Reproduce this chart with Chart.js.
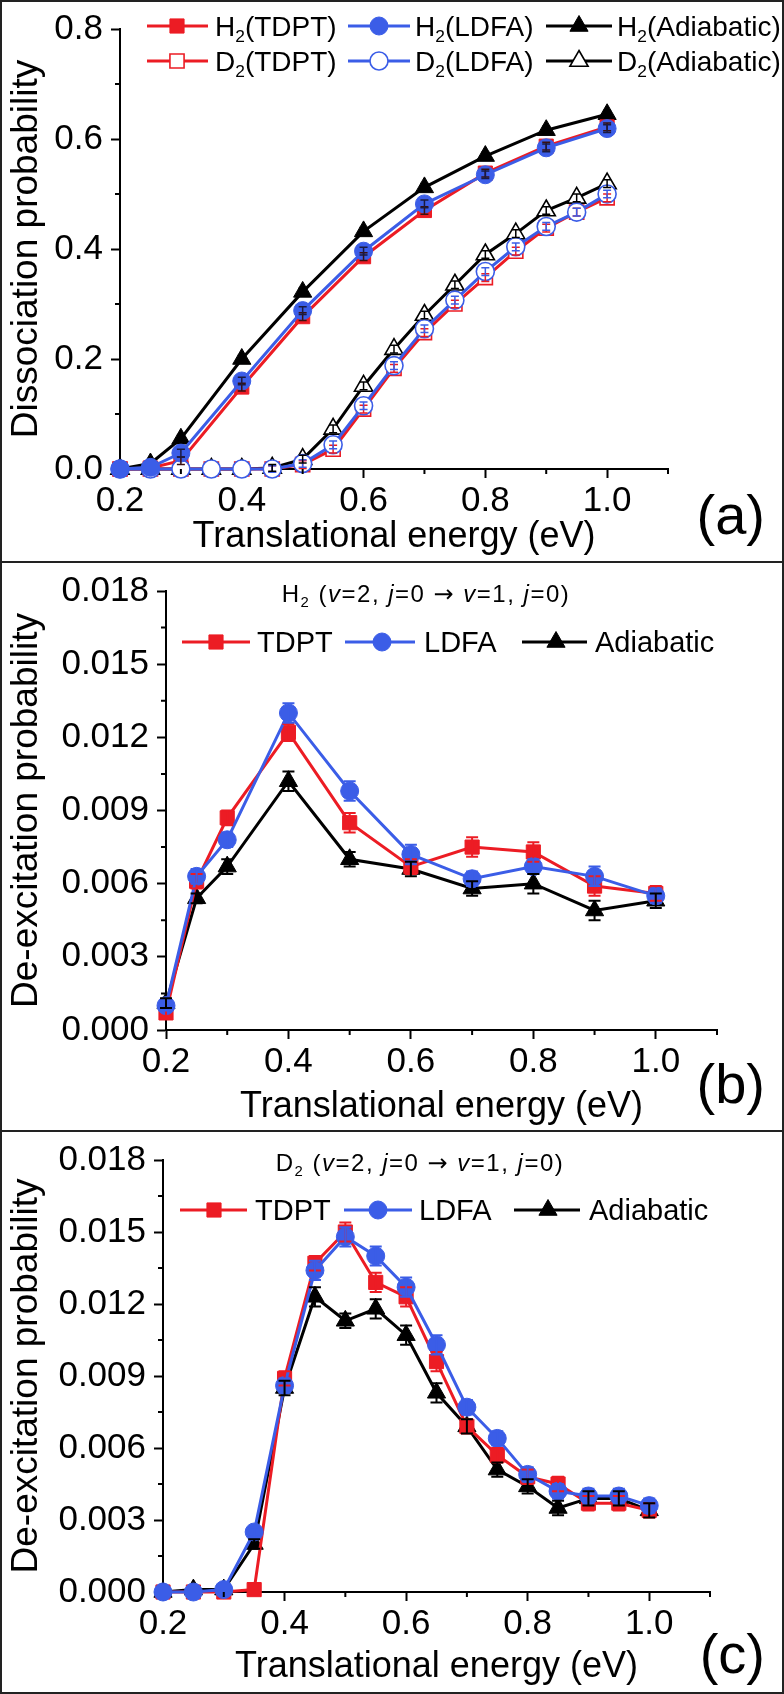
<!DOCTYPE html>
<html>
<head>
<meta charset="utf-8">
<script src="https://cdn.jsdelivr.net/npm/chart.js@4.4.1/dist/chart.umd.min.js"></script>
<style>
  html, body { margin: 0; padding: 0; background: #fff; }
  #fig { position: relative; width: 784px; height: 1694px; overflow: hidden; }
  #fig canvas { position: absolute; left: 0; }
  .frame { position: absolute; left: 0; top: 0; width: 784px; height: 1694px; border: 2px solid #222; box-sizing: border-box; pointer-events: none; }
  .sep { position: absolute; left: 0; width: 784px; height: 2px; background: #222; }
</style>
</head>
<body>
<div id="fig">
  <canvas id="chartA" width="784" height="562" style="top:0"></canvas>
  <canvas id="chartB" width="784" height="569" style="top:562px"></canvas>
  <canvas id="chartC" width="784" height="563" style="top:1131px"></canvas>
  <div class="sep" style="top:561px"></div>
  <div class="sep" style="top:1130px"></div>
  <div class="frame"></div>
</div>
<script>
const FONT = '"Liberation Sans", Arial, Helvetica, sans-serif';
const ARROW_FONT = '"DejaVu Sans", sans-serif';
const RED = "#ec1c24";
const BLUE = "#3b5de7";
const BLACK = "#000000";

// (a) dissociation probability
const E_H2 = [0.2, 0.25, 0.3, 0.4, 0.5, 0.6, 0.7, 0.8, 0.9, 1.0];
const A_H2_TDPT = [0, 0.002, 0.015, 0.149, 0.277, 0.386, 0.470, 0.538, 0.587, 0.622];
const A_H2_LDFA = [0, 0.003, 0.029, 0.160, 0.288, 0.396, 0.482, 0.535, 0.584, 0.619];
const A_H2_ADIA = [0, 0.010, 0.055, 0.200, 0.322, 0.432, 0.512, 0.569, 0.616, 0.645];
const A_H2_ERR = [0, 0, 0.007, 0.007, 0.007, 0.007, 0.007, 0.007, 0.007, 0.007];

const E_D2 = [0.2, 0.25, 0.3, 0.35, 0.4, 0.45, 0.5, 0.55, 0.6, 0.65, 0.7, 0.75, 0.8, 0.85, 0.9, 0.95, 1.0];
const A_D2_TDPT = [0, 0, 0, 0, 0, 0, 0.008, 0.036, 0.109, 0.183, 0.248, 0.300, 0.348, 0.396, 0.438, 0.467, 0.493];
const A_D2_LDFA = [0, 0, 0, 0, 0, 0, 0.010, 0.044, 0.115, 0.188, 0.255, 0.307, 0.359, 0.404, 0.441, 0.467, 0.500];
const A_D2_ADIA = [0, 0, 0, 0, 0, 0.002, 0.018, 0.073, 0.151, 0.218, 0.280, 0.335, 0.390, 0.428, 0.470, 0.493, 0.519];
const A_D2_ERR = [0, 0, 0, 0, 0, 0.006, 0.007, 0.007, 0.007, 0.007, 0.007, 0.007, 0.007, 0.007, 0.007, 0.007, 0.007];

// (b) H2 de-excitation
const E_B = [0.2, 0.25, 0.3, 0.4, 0.5, 0.6, 0.7, 0.8, 0.9, 1.0];
const B_TDPT = [0.0007, 0.0061, 0.0087, 0.0122, 0.0085, 0.0067, 0.0075, 0.0073, 0.0059, 0.0056];
const B_LDFA = [0.0010, 0.0063, 0.0078, 0.0130, 0.0098, 0.0072, 0.0062, 0.0067, 0.0063, 0.0055];
const B_ADIA = [0.0011, 0.0054, 0.0067, 0.0102, 0.0070, 0.0066, 0.0058, 0.0060, 0.0049, 0.0053];
const B_TDPT_ERR = [0.0002, 0.0003, 0.0003, 0.00035, 0.0004, 0.0003, 0.0004, 0.0004, 0.0004, 0.0003];
const B_LDFA_ERR = [0.0002, 0.0003, 0.0003, 0.0004, 0.0004, 0.0004, 0.0003, 0.0003, 0.0004, 0.0003];
const B_ADIA_ERR = [0.0002, 0.0002, 0.0003, 0.0004, 0.0003, 0.0003, 0.0003, 0.0004, 0.0004, 0.0003];

// (c) D2 de-excitation
const E_C = [0.2, 0.25, 0.3, 0.35, 0.4, 0.45, 0.5, 0.55, 0.6, 0.65, 0.7, 0.75, 0.8, 0.85, 0.9, 0.95, 1.0];
const C_TDPT = [0, 0, 0, 0.0001, 0.0089, 0.0137, 0.0150, 0.0129, 0.0123, 0.0096, 0.0069, 0.0057, 0.0048, 0.0045, 0.0037, 0.0037, 0.0034];
const C_LDFA = [0, 0, 0.0001, 0.0025, 0.0086, 0.0134, 0.0148, 0.0140, 0.0127, 0.0103, 0.0077, 0.0064, 0.0049, 0.0042, 0.0040, 0.0040, 0.0036];
const C_ADIA = [0, 0.0001, 0.0001, 0.0020, 0.0085, 0.0123, 0.0113, 0.0118, 0.0107, 0.0083, 0.0069, 0.0051, 0.0044, 0.0035, 0.0039, 0.0039, 0.0034];
const C_TDPT_ERR = [0, 0, 0, 0, 0.0003, 0.0003, 0.0004, 0.0004, 0.0004, 0.0004, 0.0003, 0.0003, 0.0003, 0.0003, 0.0003, 0.0003, 0.0003];
const C_LDFA_ERR = [0, 0, 0, 0.0002, 0.0003, 0.0004, 0.0004, 0.0004, 0.0004, 0.0004, 0.0003, 0.0003, 0.0003, 0.0003, 0.0003, 0.0003, 0.0003];
const C_ADIA_ERR = [0, 0, 0, 0.0002, 0.0003, 0.0004, 0.0003, 0.0004, 0.0004, 0.0004, 0.0003, 0.0003, 0.0003, 0.0003, 0.0003, 0.0003, 0.0003];

const R_RECT = 10, R_CIRC = 9, R_TRI = 10.5;

function isMajor(v, step) {
  const r = v / step;
  return Math.abs(r - Math.round(r)) < 1e-6;
}

function series(label, xs, ys, errs, color, shape, radius, open, errColor, order) {
  return {
    label: label,
    data: xs.map((x, i) => ({ x: x, y: ys[i] })),
    errors: errs,
    errColor: errColor || color,
    order: order,
    borderColor: color,
    borderWidth: 3,
    pointStyle: shape,
    pointRadius: radius,
    pointHoverRadius: radius,
    pointBackgroundColor: open ? "#ffffff" : color,
    pointBorderColor: color,
    pointBorderWidth: open ? 1.6 : 1,
    tension: 0,
    clip: false
  };
}

function richFont(p, size) {
  const s = p[1] === "s" ? size * 0.62 : size;
  const fam = p[1] === "a" ? ARROW_FONT : FONT;
  return (p[1] === "i" ? "italic " : "") + s + "px " + fam;
}

function drawRich(ctx, pieces, x, base, size, align, spacing) {
  ctx.letterSpacing = (spacing || 0) + "px";
  let w = 0;
  pieces.forEach(p => { ctx.font = richFont(p, size); w += ctx.measureText(p[0]).width; });
  let cx = align === "center" ? x - w / 2 : x;
  ctx.textAlign = "left";
  ctx.textBaseline = "alphabetic";
  ctx.fillStyle = "#000";
  pieces.forEach(p => {
    ctx.font = richFont(p, size);
    ctx.fillText(p[0], cx, p[1] === "s" ? base + size * 0.22 : base);
    cx += ctx.measureText(p[0]).width;
  });
  ctx.letterSpacing = "0px";
}

const decorPlugin = {
  id: "decor",
  afterDatasetsDraw(chart, args, opts) {
    const ctx = chart.ctx;
    const ys = chart.scales.y;
    ctx.save();
    chart.data.datasets.forEach((ds, di) => {
      if (!ds.errors) return;
      const meta = chart.getDatasetMeta(di);
      ctx.strokeStyle = ds.errColor;
      ctx.lineWidth = opts.errWidth;
      meta.data.forEach((pt, i) => {
        const e = ds.errors[i];
        if (!e) return;
        const v = ds.data[i].y;
        const top = ys.getPixelForValue(v + e);
        const bot = ys.getPixelForValue(v - e);
        ctx.beginPath();
        ctx.moveTo(pt.x, top); ctx.lineTo(pt.x, bot);
        ctx.moveTo(pt.x - opts.capW, top); ctx.lineTo(pt.x + opts.capW, top);
        ctx.moveTo(pt.x - opts.capW, bot); ctx.lineTo(pt.x + opts.capW, bot);
        ctx.stroke();
      });
    });
    ctx.restore();
  },
  afterDraw(chart, args, opts) {
    const ctx = chart.ctx;
    const xs = chart.scales.x, ys = chart.scales.y;
    ctx.save();
    // minor ticks
    ctx.strokeStyle = "#000";
    ctx.lineWidth = 2;
    ctx.beginPath();
    xs.ticks.forEach(t => {
      if (isMajor(t.value, opts.xMajor)) return;
      const px = xs.getPixelForValue(t.value);
      ctx.moveTo(px, xs.top); ctx.lineTo(px, xs.top + 5);
    });
    ys.ticks.forEach(t => {
      if (isMajor(t.value, opts.yMajor)) return;
      const py = ys.getPixelForValue(t.value);
      ctx.moveTo(ys.right - 5, py); ctx.lineTo(ys.right, py);
    });
    ctx.stroke();

    // legend
    const lg = opts.legend;
    lg.items.forEach(it => {
      const ds = chart.data.datasets[it.ds];
      ctx.strokeStyle = ds.borderColor;
      ctx.lineWidth = ds.borderWidth;
      ctx.beginPath(); ctx.moveTo(it.x0, it.y); ctx.lineTo(it.x1, it.y); ctx.stroke();
      ctx.fillStyle = ds.pointBackgroundColor;
      ctx.strokeStyle = ds.pointBorderColor;
      ctx.lineWidth = ds.pointBorderWidth;
      Chart.helpers.drawPoint(ctx, { pointStyle: ds.pointStyle, radius: ds.pointRadius, borderWidth: ds.pointBorderWidth, rotation: 0 }, it.mx, it.y);
      drawRich(ctx, it.text, it.tx, it.y + 0.36 * lg.size, lg.size, "left", 0);
    });

    if (opts.subtitle) {
      const st = opts.subtitle;
      drawRich(ctx, st.text, st.x, st.base, st.size, "center", st.spacing);
    }

    ctx.font = "56px " + FONT;
    ctx.textAlign = "right";
    ctx.textBaseline = "alphabetic";
    ctx.fillStyle = "#000";
    ctx.fillText(opts.tag.text, opts.tag.x, opts.tag.base);
    ctx.restore();
  }
};

function makeChart(id, cfg) {
  return new Chart(document.getElementById(id), {
    type: "line",
    data: { datasets: cfg.datasets },
    plugins: [decorPlugin],
    options: {
      responsive: false,
      animation: false,
      devicePixelRatio: 1,
      layout: { padding: { top: cfg.padTop, right: cfg.padRight, left: 0, bottom: 0 } },
      plugins: {
        legend: { display: false },
        tooltip: { enabled: false },
        decor: {
          xMajor: 0.2, yMajor: cfg.yMajor,
          errWidth: cfg.errWidth, capW: cfg.capW,
          legend: cfg.legend, subtitle: cfg.subtitle, tag: cfg.tag
        }
      },
      scales: {
        x: {
          type: "linear", min: 0.2, max: 1.1,
          afterFit: s => { s.height = cfg.xHeight; },
          border: { display: true, color: "#000", width: 2 },
          grid: {
            drawOnChartArea: false, tickLength: 9, tickWidth: 2,
            tickColor: c => (c.tick && isMajor(c.tick.value, 0.2)) ? "#000" : "rgba(0,0,0,0)"
          },
          ticks: {
            stepSize: 0.1, autoSkip: false, maxRotation: 0, padding: 2,
            color: "#000", font: { family: FONT, size: 35 },
            callback: v => isMajor(v, 0.2) ? v.toFixed(1) : ""
          },
          title: {
            display: true, text: "Translational energy (eV)", color: "#000",
            font: { family: FONT, size: 36 }, padding: { top: 0, bottom: cfg.xTitlePad }
          }
        },
        y: {
          type: "linear", min: 0, max: cfg.yMax,
          afterFit: s => { s.width = cfg.yWidth; },
          border: { display: true, color: "#000", width: 2 },
          grid: {
            drawOnChartArea: false, tickLength: 9, tickWidth: 2,
            tickColor: c => (c.tick && isMajor(c.tick.value, cfg.yMajor)) ? "#000" : "rgba(0,0,0,0)"
          },
          ticks: {
            stepSize: cfg.yStep, autoSkip: false, padding: 8,
            color: "#000", font: { family: FONT, size: 35 },
            callback: v => isMajor(v, cfg.yMajor) ? v.toFixed(cfg.yDigits) : ""
          },
          title: {
            display: true, text: cfg.yTitle, color: "#000",
            font: { family: FONT, size: 37 }, padding: { top: 5, bottom: 0 }
          }
        }
      }
    }
  });
}

const H2 = [["H"], ["2", "s"]];
const D2 = [["D"], ["2", "s"]];

makeChart("chartA", {
  datasets: [
    series("H2(TDPT)", E_H2, A_H2_TDPT, A_H2_ERR, RED, "rect", R_RECT, false, "#3a1010", 2),
    series("H2(LDFA)", E_H2, A_H2_LDFA, A_H2_ERR, BLUE, "circle", R_CIRC, false, "#1a1a40", 1),
    series("H2(Adiabatic)", E_H2, A_H2_ADIA, A_H2_ERR, BLACK, "triangle", R_TRI, false, "#000", 3),
    series("D2(TDPT)", E_D2, A_D2_TDPT, A_D2_ERR, RED, "rect", R_RECT, true, RED, 2),
    series("D2(LDFA)", E_D2, A_D2_LDFA, A_D2_ERR, BLUE, "circle", R_CIRC, true, BLUE, 1),
    series("D2(Adiabatic)", E_D2, A_D2_ADIA, A_D2_ERR, BLACK, "triangle", R_TRI, true, BLACK, 3)
  ],
  padTop: 27, padRight: 116, yWidth: 120, xHeight: 93, xTitlePad: 3,
  yMax: 0.8, yStep: 0.1, yMajor: 0.2, yDigits: 1,
  yTitle: "Dissociation probability",
  errWidth: 1.5, capW: 4,
  legend: {
    size: 28,
    items: [
      { ds: 0, y: 26, x0: 147, x1: 208, mx: 177, tx: 215, text: H2.concat([["(TDPT)"]]) },
      { ds: 1, y: 26, x0: 348, x1: 410, mx: 379, tx: 415, text: H2.concat([["(LDFA)"]]) },
      { ds: 2, y: 26, x0: 546, x1: 612, mx: 579, tx: 617, text: H2.concat([["(Adiabatic)"]]) },
      { ds: 3, y: 61, x0: 147, x1: 208, mx: 177, tx: 215, text: D2.concat([["(TDPT)"]]) },
      { ds: 4, y: 61, x0: 348, x1: 410, mx: 379, tx: 415, text: D2.concat([["(LDFA)"]]) },
      { ds: 5, y: 61, x0: 546, x1: 612, mx: 579, tx: 617, text: D2.concat([["(Adiabatic)"]]) }
    ]
  },
  tag: { text: "(a)", x: 765, base: 534 }
});

function transitionTitle(mol) {
  return mol.concat([[" ("], ["v", "i"], ["=2, "], ["j", "i"], ["=0 "], ["\u2192", "a"], [" "], ["v", "i"], ["=1, "], ["j", "i"], ["=0)"]]);
}

makeChart("chartB", {
  datasets: [
    series("TDPT", E_B, B_TDPT, B_TDPT_ERR, RED, "rect", R_RECT, false, RED, 2),
    series("LDFA", E_B, B_LDFA, B_LDFA_ERR, BLUE, "circle", R_CIRC, false, BLUE, 1),
    series("Adiabatic", E_B, B_ADIA, B_ADIA_ERR, BLACK, "triangle", R_TRI, false, BLACK, 3)
  ],
  padTop: 27, padRight: 67, yWidth: 166, xHeight: 101, xTitlePad: 2,
  yMax: 0.018, yStep: 0.0015, yMajor: 0.003, yDigits: 3,
  yTitle: "De-excitation probability",
  errWidth: 2, capW: 6,
  legend: {
    size: 29,
    items: [
      { ds: 0, y: 80, x0: 182, x1: 250, mx: 216, tx: 257, text: [["TDPT"]] },
      { ds: 1, y: 80, x0: 345, x1: 415, mx: 382, tx: 424, text: [["LDFA"]] },
      { ds: 2, y: 80, x0: 522, x1: 587, mx: 556, tx: 595, text: [["Adiabatic"]] }
    ]
  },
  subtitle: { text: transitionTitle(H2), x: 426, base: 40, size: 24, spacing: 1.5 },
  tag: { text: "(b)", x: 765, base: 541 }
});

makeChart("chartC", {
  datasets: [
    series("TDPT", E_C, C_TDPT, C_TDPT_ERR, RED, "rect", R_RECT, false, RED, 2),
    series("LDFA", E_C, C_LDFA, C_LDFA_ERR, BLUE, "circle", R_CIRC, false, BLUE, 1),
    series("Adiabatic", E_C, C_ADIA, C_ADIA_ERR, BLACK, "triangle", R_TRI, false, BLACK, 3)
  ],
  padTop: 27, padRight: 74, yWidth: 163, xHeight: 102, xTitlePad: 5,
  yMax: 0.018, yStep: 0.0015, yMajor: 0.003, yDigits: 3,
  yTitle: "De-excitation probability",
  errWidth: 2, capW: 6,
  legend: {
    size: 29,
    items: [
      { ds: 0, y: 79, x0: 180, x1: 247, mx: 214, tx: 255, text: [["TDPT"]] },
      { ds: 1, y: 79, x0: 344, x1: 412, mx: 378, tx: 419, text: [["LDFA"]] },
      { ds: 2, y: 79, x0: 514, x1: 580, mx: 548, tx: 589, text: [["Adiabatic"]] }
    ]
  },
  subtitle: { text: transitionTitle(D2), x: 420, base: 40, size: 24, spacing: 1.5 },
  tag: { text: "(c)", x: 765, base: 542 }
});
</script>
</body>
</html>
